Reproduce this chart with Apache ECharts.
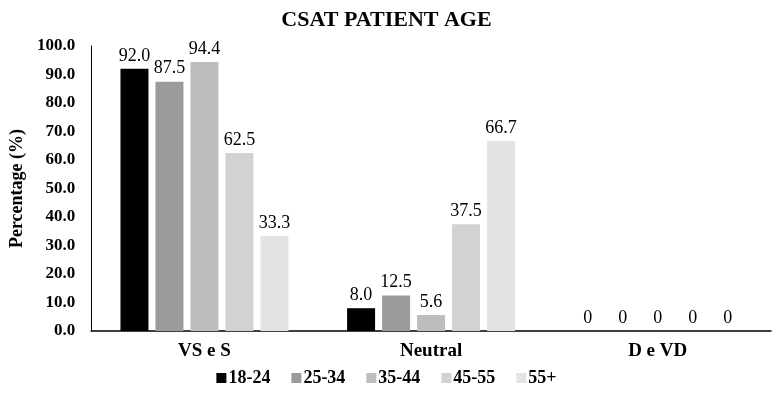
<!DOCTYPE html>
<html>
<head>
<meta charset="utf-8">
<script src="https://cdn.jsdelivr.net/npm/echarts@6/dist/echarts.min.js"></script>
<style>
  html, body { margin: 0; padding: 0; background: #fff; }
  #container { width: 773px; height: 398px; }
</style>
</head>
<body>
<div id="container"></div>
<script>
var categories = ['VS e S', 'Neutral', 'D e VD'];
var ageGroups = ['18-24', '25-34', '35-44', '45-55', '55+'];
var age1824 = [92.0, 8.0, 0];
var age2534 = [87.5, 12.5, 0];
var age3544 = [94.4, 5.6, 0];
var age4555 = [62.5, 37.5, 0];
var age55 = [33.3, 66.7, 0];
var colors = ['#000000', '#9b9b9b', '#bcbdbf', '#d1d2d2', '#e3e3e3'];

var font = '"Liberation Serif", "Times New Roman", serif';
var myChart = echarts.init(document.getElementById('container'));

var seriesData = [age1824, age2534, age3544, age4555, age55];
var series = ageGroups.map(function(name, i) {
  return {
    name: name,
    type: 'bar',
    barWidth: 28,
    barGap: '25%',
    itemStyle: { color: colors[i] },
    label: {
      show: true,
      position: 'top',
      distance: 4,
      color: '#000',
      fontFamily: font,
      fontSize: 18,
      formatter: function(p) {
        return p.value === 0 ? '0' : p.value.toFixed(1);
      }
    },
    data: seriesData[i]
  };
});

var option = {
  backgroundColor: '#ffffff',
  animation: false,
  color: colors,
  title: {
    text: 'CSAT PATIENT AGE',
    left: 'center',
    top: 4,
    textStyle: {
      color: '#000',
      fontFamily: font,
      fontWeight: 'bold',
      fontSize: 22
    }
  },
  legend: {
    bottom: 6,
    left: 'center',
    itemWidth: 10,
    itemHeight: 10,
    itemGap: 21,
    icon: 'rect',
    textStyle: {
      color: '#000',
      fontFamily: font,
      fontWeight: 'bold',
      fontSize: 18,
      padding: [0, 0, 0, -3]
    },
    data: ageGroups
  },
  grid: {
    left: 87,
    right: 2,
    top: 46,
    bottom: 67
  },
  xAxis: {
    type: 'category',
    data: categories,
    axisLine: { lineStyle: { color: '#000', width: 1.5 } },
    axisTick: { show: false },
    axisLabel: {
      color: '#000',
      fontFamily: font,
      fontWeight: 'bold',
      fontSize: 19,
      margin: 11
    }
  },
  yAxis: {
    type: 'value',
    min: 0,
    max: 100,
    interval: 10,
    name: 'Percentage (%)',
    nameLocation: 'middle',
    nameGap: 65,
    nameTextStyle: {
      color: '#000',
      fontFamily: font,
      fontWeight: 'bold',
      fontSize: 18
    },
    axisLine: { show: true, lineStyle: { color: '#000', width: 1 } },
    axisTick: { show: false },
    splitLine: { show: false },
    axisLabel: {
      color: '#000',
      fontFamily: font,
      fontWeight: 'bold',
      fontSize: 17,
      margin: 16,
      formatter: function(v) { return v.toFixed(1); }
    }
  },
  series: series
};

myChart.setOption(option);
</script>
</body>
</html>
